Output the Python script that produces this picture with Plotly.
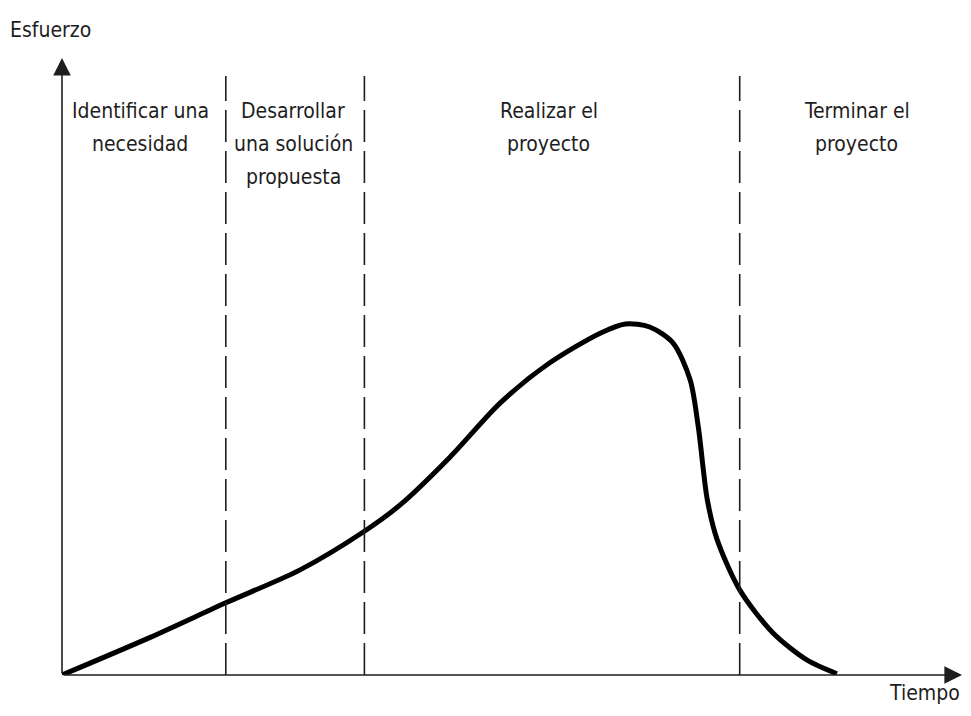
import plotly.graph_objects as go

# Data (time units 0..100, effort units 0..100)
tiempo = [0, 9.8, 18.2, 26.4, 33.6, 37.6, 43.1, 48.7, 54.2, 59.8, 62.6, 65.3,
          67.9, 69.8, 70.7, 71.7, 72.8, 75.3, 79.0, 82.8, 86.1]
esfuerzo = [0, 6.1, 11.7, 17.0, 23.3, 27.6, 35.3, 44.1, 50.6, 55.4, 56.9, 56.4,
            53.8, 47.8, 40.2, 28.4, 21.9, 13.8, 6.8, 2.4, 0.2]

fases_limites = [18.2, 33.6, 75.3]
fases_lineas = [["Identificar una", "necesidad"],
                ["Desarrollar", "una solución", "propuesta"],
                ["Realizar el", "proyecto"],
                ["Terminar el", "proyecto"]]
fases_x = [8.7, 25.7, 54.1, 88.3]

FONT = "Liberation Sans Narrow, DejaVu Sans Condensed, Arial Narrow, sans-serif"
INK = "#1e1e1e"
FS = 21
LINE_Y0 = 91.4      # effort-axis position of first text line
LINE_STEP = 5.35    # spacing between text lines (effort units)

# page has an 8px body margin; figure sized to fit the 971x716 window
W, H = 955, 700
ML, MR, MT, MB = 54, 1, 50, 33

fig = go.Figure()
fig.add_trace(go.Scatter(x=tiempo, y=esfuerzo, mode="lines",
                         line=dict(color="black", width=5, shape="spline", smoothing=0.8),
                         hoverinfo="skip", showlegend=False))

shapes = []
for xb in fases_limites:
    shapes.append(dict(type="line", xref="x", yref="y", x0=xb, x1=xb, y0=0, y1=97.1,
                       line=dict(color=INK, width=1.6, dash="32px,9px")))

annotations = []
annotations.append(dict(x=0, y=100, ax=0, ay=0, xref="x", yref="y", axref="x", ayref="y",
                        text="", showarrow=True, arrowhead=2, arrowsize=2.2,
                        arrowwidth=1.6, arrowcolor=INK, standoff=0, startstandoff=0))
annotations.append(dict(x=100, y=0, ax=0, ay=0, xref="x", yref="y", axref="x", ayref="y",
                        text="", showarrow=True, arrowhead=2, arrowsize=2.2,
                        arrowwidth=1.6, arrowcolor=INK, standoff=0, startstandoff=0))
for xt, lineas in zip(fases_x, fases_lineas):
    for i, tt in enumerate(lineas):
        annotations.append(dict(x=xt, y=LINE_Y0 - i * LINE_STEP, xref="x", yref="y",
                                text=tt, showarrow=False, xanchor="center", yanchor="middle",
                                font=dict(family=FONT, size=FS, color=INK)))

pw, ph = W - ML - MR, H - MT - MB
annotations.append(dict(x=(42 - ML) / pw, y=(H - MB - 22) / ph, xref="paper", yref="paper",
                        text="Esfuerzo", showarrow=False, xanchor="center", yanchor="middle",
                        font=dict(family=FONT, size=FS, color=INK)))
annotations.append(dict(x=(W - 1 - ML) / pw, y=(H - MB - 685) / ph, xref="paper", yref="paper",
                        text="Tiempo", showarrow=False, xanchor="right", yanchor="middle",
                        font=dict(family=FONT, size=FS, color=INK)))

fig.update_layout(
    width=W, height=H,
    margin=dict(l=ML, r=MR, t=MT, b=MB),
    paper_bgcolor="white", plot_bgcolor="white",
    xaxis=dict(range=[0, 100], visible=False, fixedrange=True),
    yaxis=dict(range=[0, 100], visible=False, fixedrange=True),
    shapes=shapes, annotations=annotations, showlegend=False,
)
fig.write_html("out.html")
